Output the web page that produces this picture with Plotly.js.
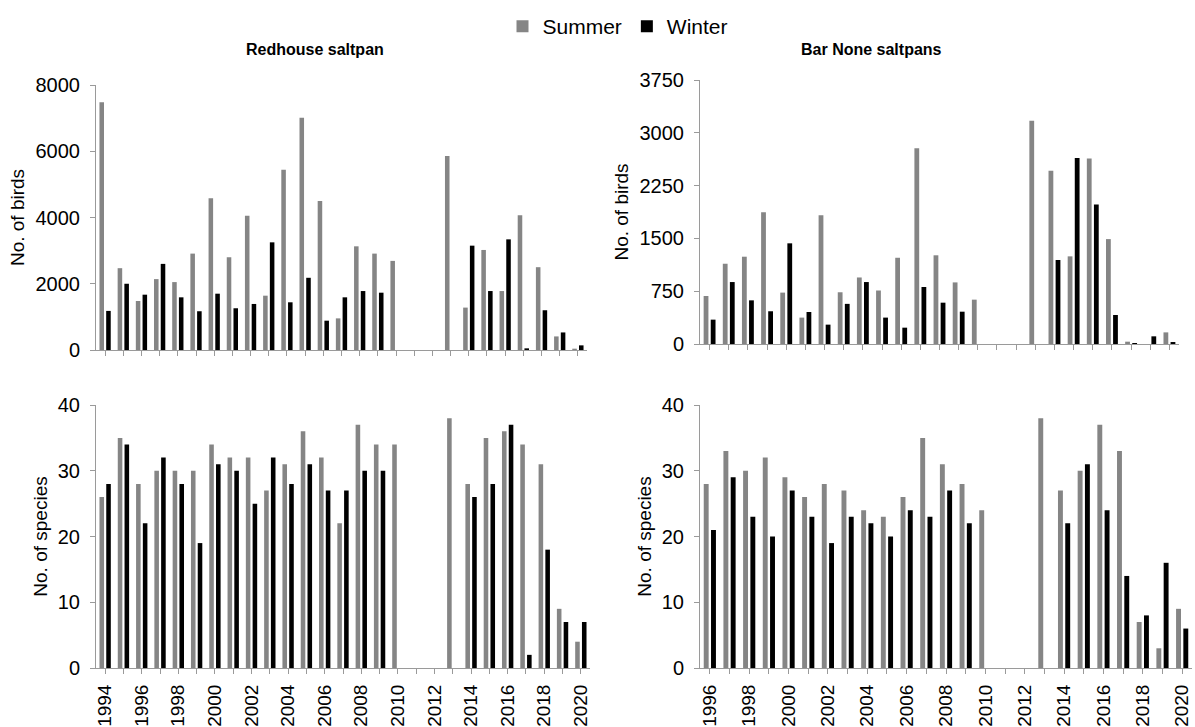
<!DOCTYPE html>
<html>
<head>
<meta charset="utf-8">
<script src="https://cdn.plot.ly/plotly-3.0.1.min.js"></script>
<style>
  html, body { margin: 0; padding: 0; background: #fff; }
  #chart { width: 1195px; height: 727px; }
</style>
</head>
<body>
<div id="chart"></div>
<script>
// Survey years for each site
const yearsRedhouse = [1994, 1995, 1996, 1997, 1998, 1999, 2000, 2001, 2002, 2003, 2004, 2005, 2006, 2007,
  2008, 2009, 2010, 2011, 2012, 2013, 2014, 2015, 2016, 2017, 2018, 2019, 2020];
const yearsBarNone = [1996, 1997, 1998, 1999, 2000, 2001, 2002, 2003, 2004, 2005, 2006, 2007,
  2008, 2009, 2010, 2011, 2012, 2013, 2014, 2015, 2016, 2017, 2018, 2019, 2020];

// Redhouse saltpan: bird counts
const redhouseBirdsSummer = [7480, 2470, 1480, 2140, 2050, 2910, 4580, 2800, 4050, 1640, 5440, 7010, 4500, 955,
  3130, 2910, 2690, null, null, 5860, 1280, 3020, 1780, 4070, 2500, 410, 40];
const redhouseBirdsWinter = [1180, 2000, 1670, 2600, 1590, 1170, 1700, 1260, 1390, 3250, 1440, 2180, 885, 1590,
  1780, 1730, null, null, null, null, 3150, 1780, 3340, 50, 1200, 530, 140];

// Redhouse saltpan: species counts
const redhouseSpeciesSummer = [26, 35, 28, 30, 30, 30, 34, 32, 32, 27, 31, 36, 32, 22,
  37, 34, 34, null, null, 38, 28, 35, 36, 34, 31, 9, 4];
const redhouseSpeciesWinter = [28, 34, 22, 32, 28, 19, 31, 30, 25, 32, 28, 31, 27, 27,
  30, 30, null, null, null, null, 26, 28, 37, 2, 18, 7, 7];

// Bar None saltpans: bird counts
const barNoneBirdsSummer = [682, 1140, 1240, 1870, 730, 375, 1830, 735, 945, 760, 1225, 2780,
  1260, 875, 630, null, null, 3170, 2460, 1245, 2635, 1490, 33, 0, 165];
const barNoneBirdsWinter = [346, 880, 620, 465, 1430, 455, 275, 570, 880, 375, 232, 810,
  587, 459, null, null, null, null, 1193, 2642, 1980, 412, 14, 109, 28];

// Bar None saltpans: species counts
const barNoneSpeciesSummer = [28, 33, 30, 32, 29, 26, 28, 27, 24, 23, 26, 35,
  31, 28, 24, null, null, 38, 27, 30, 37, 33, 7, 3, 9];
const barNoneSpeciesWinter = [21, 29, 23, 20, 27, 23, 19, 23, 22, 20, 24, 23,
  27, 22, null, null, null, null, 22, 31, 24, 14, 8, 16, 6];

const seasonNames = ['Summer', 'Winter'];

const SUMMER_COLOR = '#858585';
const WINTER_COLOR = '#000000';
const AXIS_COLOR = '#9a9a9a';
const FONT = 'Liberation Sans, Arial, sans-serif';

function seasonPair(years, summer, winter, xa, ya, showLegend) {
  return [
    { type: 'bar', name: seasonNames[0], x: years, y: summer, xaxis: xa, yaxis: ya,
      marker: { color: SUMMER_COLOR }, width: 0.25, offset: -0.31,
      showlegend: showLegend, legendgroup: 'summer', hoverinfo: 'x+y+name' },
    { type: 'bar', name: seasonNames[1], x: years, y: winter, xaxis: xa, yaxis: ya,
      marker: { color: WINTER_COLOR }, width: 0.25, offset: 0.06,
      showlegend: showLegend, legendgroup: 'winter', hoverinfo: 'x+y+name' }
  ];
}

const traces = [].concat(
  seasonPair(yearsRedhouse, redhouseBirdsSummer, redhouseBirdsWinter, 'x', 'y', true),
  seasonPair(yearsBarNone, barNoneBirdsSummer, barNoneBirdsWinter, 'x2', 'y2', false),
  seasonPair(yearsRedhouse, redhouseSpeciesSummer, redhouseSpeciesWinter, 'x3', 'y3', false),
  seasonPair(yearsBarNone, barNoneSpeciesSummer, barNoneSpeciesWinter, 'x4', 'y4', false)
);

const W = 1195, H = 727;
const px = v => v / W;
const py = v => 1 - v / H;

function xAxis(domain, range, first, withLabels, anchor) {
  const ax = {
    domain: domain, range: range, anchor: anchor, type: 'linear',
    showline: true, linecolor: AXIS_COLOR, linewidth: 1,
    showgrid: false, zeroline: false,
    ticks: 'outside', ticklen: 5, tickwidth: 1, tickcolor: AXIS_COLOR,
    automargin: false, fixedrange: true
  };
  if (withLabels) {
    Object.assign(ax, {
      tickmode: 'linear', tick0: first, dtick: 2, tickangle: -90,
      showticklabels: true, tickfont: { family: FONT, size: 19, color: '#000' },
      ticklabelstandoff: 3,
      minor: { tickmode: 'linear', tick0: first, dtick: 1, ticks: 'outside', ticklen: 5, tickcolor: AXIS_COLOR, tickwidth: 1 }
    });
  } else {
    Object.assign(ax, { tickmode: 'linear', tick0: first, dtick: 1, showticklabels: false });
  }
  return ax;
}

function yAxis(domain, range, dtick, title, anchor) {
  return {
    domain: domain, range: range, anchor: anchor,
    tickmode: 'linear', tick0: 0, dtick: dtick,
    showline: true, linecolor: AXIS_COLOR, linewidth: 1,
    showgrid: false, zeroline: false,
    ticks: 'outside', ticklen: 5, tickwidth: 1, tickcolor: AXIS_COLOR,
    tickfont: { family: FONT, size: 20, color: '#000' },
    ticklabelstandoff: 6,
    title: { text: title, font: { family: FONT, size: 19, color: '#000' }, standoff: 5 },
    automargin: false, fixedrange: true
  };
}

const layout = {
  width: W, height: H,
  margin: { l: 0, r: 0, t: 0, b: 0 },
  paper_bgcolor: '#fff', plot_bgcolor: '#fff',
  font: { family: FONT, color: '#000' },
  barmode: 'overlay',
  xaxis:  xAxis([px(96), px(587)], [1993.5, 2020.5], 1994, false, 'y'),
  xaxis2: xAxis([px(700), px(1179)], [1995.5, 2020.5], 1996, false, 'y2'),
  xaxis3: xAxis([px(96), px(590)], [1993.5, 2020.5], 1994, true, 'y3'),
  xaxis4: xAxis([px(700), px(1192)], [1995.5, 2020.5], 1996, true, 'y4'),
  yaxis:  yAxis([py(350), py(85)], [0, 8000], 2000, 'No. of birds', 'x'),
  yaxis2: yAxis([py(344), py(80)], [0, 3750], 750, 'No. of birds', 'x2'),
  yaxis3: yAxis([py(668), py(405)], [0, 40], 10, 'No. of species', 'x3'),
  yaxis4: yAxis([py(668), py(405)], [0, 40], 10, 'No. of species', 'x4'),
  legend: {
    orientation: 'h', x: px(618), xanchor: 'center', y: py(6), yanchor: 'top',
    font: { family: FONT, size: 21, color: '#000' },
    itemwidth: 30, tracegroupgap: 0, bgcolor: 'rgba(0,0,0,0)'
  },
  annotations: [
    { text: '<b>Redhouse saltpan</b>', xref: 'paper', yref: 'paper', x: px(315), y: py(50),
      xanchor: 'center', yanchor: 'middle', showarrow: false, font: { family: FONT, size: 16, color: '#000' } },
    { text: '<b>Bar None saltpans</b>', xref: 'paper', yref: 'paper', x: px(871), y: py(50),
      xanchor: 'center', yanchor: 'middle', showarrow: false, font: { family: FONT, size: 16, color: '#000' } }
  ]
};

Plotly.newPlot('chart', traces, layout, { displayModeBar: false, staticPlot: true });
</script>
</body>
</html>
